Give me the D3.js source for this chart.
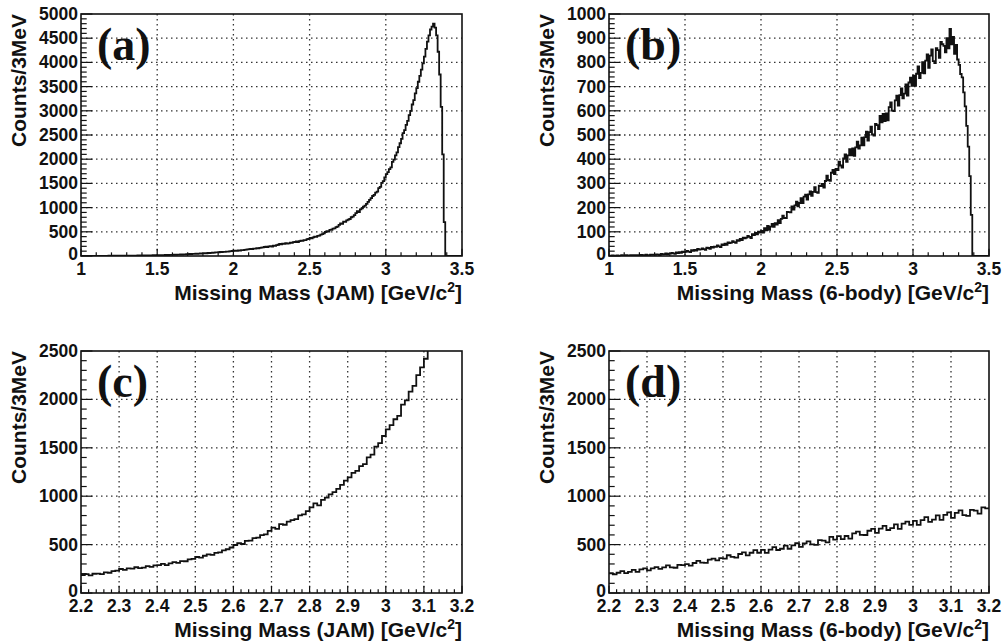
<!DOCTYPE html>
<html lang="en">
<head>
<meta charset="utf-8">
<title>Missing mass spectra</title>
<script src="https://d3js.org/d3.v7.min.js"></script>
<style>
    body { margin: 0; background: #fff; }
    .tick-label { font-family: "Liberation Sans", Arial, sans-serif; font-weight: bold; font-size: 17.5px; fill: #111; }
    .ax-title { font-family: "Liberation Sans", Arial, sans-serif; font-weight: bold; font-size: 21px; fill: #111; }
    .panel-tag { font-family: "Liberation Serif", "Times New Roman", serif; font-weight: bold; font-size: 46px; fill: #111; }
</style>
</head>
<body>
<div id="chart"></div>
<script>

// ----- data: counts per 3 MeV, one value per 10 MeV bin from 1.00 GeV -----
var binStart = 1.0;
var binWidth = 0.01;

// JAM simulation (panels a and c)
var jamCounts = [
    2,1,3,2,2,3,1,3,2,3,
    3,2,4,3,4,2,4,3,5,4,
    4,5,3,6,4,5,6,4,6,5,
    6,7,5,8,7,9,8,10,9,10,
    10,12,9,13,11,14,13,15,14,16,
    16,18,17,20,19,21,22,21,24,25,
    25,28,26,30,29,32,31,35,34,37,
    38,41,39,44,43,47,46,50,52,54,
    55,59,57,62,61,66,67,70,74,76,
    78,83,80,87,86,92,91,97,100,103,
    106,110,108,116,114,121,123,128,133,137,
    140,146,143,152,151,160,159,168,173,180,
    186,194,182,199,201,196,214,209,226,232,
    248,239,255,251,266,258,262,278,270,285,
    289,300,288,306,318,312,330,328,348,352,
    372,366,385,398,394,415,420,441,452,470,
    496,514,506,538,542,566,572,598,605,642,
    676,662,712,705,738,752,764,801,812,845,
    885,925,906,962,985,1018,1042,1075,1118,1160,
    1195,1240,1262,1310,1332,1402,1430,1512,1548,1622,
    1690,1735,1795,1830,1945,1990,2080,2140,2250,2330,
    2420,2540,2600,2710,2790,2910,3000,3130,3220,3360,
    3470,3600,3720,3850,3980,4120,4280,4430,4560,4680,
    4740,4800,4720,4560,4220,3750,3080,2100,700,0,
    0,0,0,0,0,0,0,0,0,0
];

// 6-body phase space (panels b and d)
var sixBodyCounts = [
    1,0,2,1,0,2,1,1,3,1,
    2,3,1,2,4,2,3,2,4,3,
    3,5,2,4,6,4,3,6,5,6,
    5,7,6,4,9,7,8,11,7,10,
    10,13,11,9,15,12,16,13,18,16,
    17,21,18,16,24,21,25,22,29,26,
    27,31,28,25,34,33,30,38,35,39,
    38,44,40,37,48,45,51,46,56,53,
    55,61,57,54,66,63,71,66,76,73,
    76,83,79,74,90,86,95,89,101,97,
    104,97,115,106,124,108,121,133,120,136,
    130,148,136,153,167,157,157,182,181,180,
    205,192,209,225,205,219,239,219,245,254,
    233,255,267,249,265,285,264,261,291,289,
    298,283,310,332,314,311,344,356,338,360,
    355,390,374,365,403,420,389,416,442,416,
    445,414,449,473,444,457,489,457,491,514,
    477,512,534,502,498,546,541,524,579,552,
    587,557,589,561,615,635,601,599,643,663,
    621,665,693,651,671,709,663,717,737,703,
    745,703,753,783,735,757,801,755,807,833,
    777,828,854,805,797,859,851,819,885,875,
    868,842,900,858,938,875,905,835,872,812,
    790,752,738,676,618,538,452,330,170,0,
    0,0,0,0,0,0,0,0,0,0
];

var panelTags = ["(a)", "(b)", "(c)", "(d)"];
var xTitles = ["Missing Mass (JAM) [GeV/c", "Missing Mass (6-body) [GeV/c",
               "Missing Mass (JAM) [GeV/c", "Missing Mass (6-body) [GeV/c"];
var xRanges = [[1, 3.5], [1, 3.5], [2.2, 3.2], [2.2, 3.2]];
var yRanges = [[0, 5000], [0, 1000], [0, 2500], [0, 2500]];
var xMajor = [[1, 1.5, 2, 2.5, 3, 3.5], [1, 1.5, 2, 2.5, 3, 3.5],
              [2.2, 2.3, 2.4, 2.5, 2.6, 2.7, 2.8, 2.9, 3, 3.1, 3.2],
              [2.2, 2.3, 2.4, 2.5, 2.6, 2.7, 2.8, 2.9, 3, 3.1, 3.2]];
var xMinorStep = [0.1, 0.1, 0.02, 0.02];
var yMajorStep = [500, 100, 500, 500];
var yMinorStep = [100, 20, 100, 100];
var panelData = [jamCounts, sixBodyCounts, jamCounts, sixBodyCounts];

// ----- layout -----
var width = 1003, height = 643;
var frames = [
    { x0: 81,  x1: 462, y0: 14,  y1: 256 },
    { x0: 609, x1: 989, y0: 14,  y1: 256 },
    { x0: 81,  x1: 462, y0: 351, y1: 593 },
    { x0: 609, x1: 989, y0: 351, y1: 593 }
];

var svg = d3.select("#chart").append("svg")
    .attr("width", width)
    .attr("height", height);

function fmt(v) {
    return String(Math.round(v * 1000) / 1000);
}

frames.forEach(function(f, p) {
    var x = d3.scaleLinear().domain(xRanges[p]).range([f.x0, f.x1]);
    var y = d3.scaleLinear().domain(yRanges[p]).range([f.y1, f.y0]);
    var g = svg.append("g");
    var fw = f.x1 - f.x0, fh = f.y1 - f.y0;

    // dotted grid at the major ticks
    var yMajors = d3.range(yRanges[p][0], yRanges[p][1] + 1e-6, yMajorStep[p]);
    g.append("g").selectAll("line")
        .data(xMajor[p].slice(1, -1))
        .enter().append("line")
        .attr("x1", function(d) { return x(d); })
        .attr("x2", function(d) { return x(d); })
        .attr("y1", f.y0).attr("y2", f.y1)
        .attr("stroke", "#333").attr("stroke-width", 1.3)
        .attr("stroke-dasharray", "1.5,3.5");
    g.append("g").selectAll("line")
        .data(yMajors.slice(1, -1))
        .enter().append("line")
        .attr("y1", function(d) { return y(d); })
        .attr("y2", function(d) { return y(d); })
        .attr("x1", f.x0).attr("x2", f.x1)
        .attr("stroke", "#333").attr("stroke-width", 1.3)
        .attr("stroke-dasharray", "1.5,3.5");

    // ticks on the left and bottom edges, pointing in
    var xMinors = d3.range(xRanges[p][0], xRanges[p][1] + 1e-6, xMinorStep[p]);
    var yMinors = d3.range(yRanges[p][0], yRanges[p][1] + 1e-6, yMinorStep[p]);
    var xt = 0.03 * fh, yt = 0.03 * fw;
    g.append("g").selectAll("line")
        .data(xMinors)
        .enter().append("line")
        .attr("x1", function(d) { return x(d); })
        .attr("x2", function(d) { return x(d); })
        .attr("y1", f.y1)
        .attr("y2", function(d) {
            var isMajor = xMajor[p].some(function(m) { return Math.abs(m - d) < 1e-6; });
            return f.y1 - (isMajor ? xt : xt / 2);
        })
        .attr("stroke", "#111").attr("stroke-width", 1.2);
    g.append("g").selectAll("line")
        .data(yMinors)
        .enter().append("line")
        .attr("y1", function(d) { return y(d); })
        .attr("y2", function(d) { return y(d); })
        .attr("x1", f.x0)
        .attr("x2", function(d) {
            var isMajor = Math.abs(d / yMajorStep[p] - Math.round(d / yMajorStep[p])) < 1e-6;
            return f.x0 + (isMajor ? yt : yt / 2);
        })
        .attr("stroke", "#111").attr("stroke-width", 1.2);

    // histogram, step style
    var pts = panelData[p].map(function(v, i) { return [binStart + i * binWidth, v]; });
    pts.push([binStart + panelData[p].length * binWidth, panelData[p][panelData[p].length - 1]]);
    var clipId = "clip" + p;
    svg.append("clipPath").attr("id", clipId)
        .append("rect")
        .attr("x", f.x0).attr("y", f.y0)
        .attr("width", fw).attr("height", fh);
    var line = d3.line()
        .x(function(d) { return x(d[0]); })
        .y(function(d) { return y(d[1]); })
        .curve(d3.curveStepAfter);
    g.append("path")
        .datum(pts.filter(function(d) { return d[0] >= xRanges[p][0] - 1e-6 && d[0] <= xRanges[p][1] + 1e-6; }))
        .attr("clip-path", "url(#" + clipId + ")")
        .attr("fill", "none")
        .attr("stroke", "#111")
        .attr("stroke-width", 1.8)
        .attr("d", line);

    // frame
    g.append("rect")
        .attr("x", f.x0).attr("y", f.y0)
        .attr("width", fw).attr("height", fh)
        .attr("fill", "none").attr("stroke", "#111").attr("stroke-width", 1.6);

    // tick labels
    g.append("g").selectAll("text")
        .data(xMajor[p])
        .enter().append("text")
        .attr("class", "tick-label")
        .attr("x", function(d) { return x(d); })
        .attr("y", f.y1 + 19)
        .attr("text-anchor", "middle")
        .text(fmt);
    g.append("g").selectAll("text")
        .data(yMajors)
        .enter().append("text")
        .attr("class", "tick-label")
        .attr("x", f.x0 - 3)
        .attr("y", function(d) { return y(d) + (d === 0 ? 4 : 6); })
        .attr("text-anchor", "end")
        .text(fmt);

    // axis titles
    var xTitle = g.append("text")
        .attr("class", "ax-title")
        .attr("x", f.x1)
        .attr("y", f.y1 + 44)
        .attr("text-anchor", "end");
    xTitle.append("tspan").text(xTitles[p]);
    xTitle.append("tspan").attr("font-size", "14px").attr("dy", -8).text("2");
    xTitle.append("tspan").attr("dy", 8).text("]");

    g.append("text")
        .attr("class", "ax-title")
        .attr("transform", "translate(" + (f.x0 - 55) + "," + f.y0 + ") rotate(-90)")
        .attr("text-anchor", "end")
        .text("Counts/3MeV");

    // panel tag
    g.append("text")
        .attr("class", "panel-tag")
        .attr("x", f.x0 + 16)
        .attr("y", f.y0 + 46)
        .text(panelTags[p]);
});

</script>
</body>
</html>
